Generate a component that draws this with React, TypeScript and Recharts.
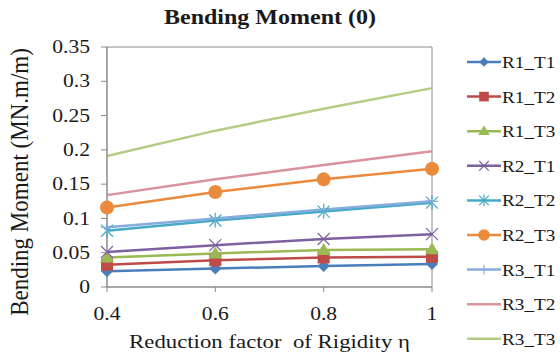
import { LineChart, Line, XAxis, YAxis, ReferenceArea } from 'recharts'

const eta = [0.4, 0.6, 0.8, 1]

const r1t1 = [0.023, 0.027, 0.0305, 0.0335]
const r1t2 = [0.0325, 0.039, 0.043, 0.044]
const r1t3 = [0.043, 0.049, 0.054, 0.055]
const r2t1 = [0.051, 0.061, 0.07, 0.077]
const r2t2 = [0.082, 0.097, 0.11, 0.123]
const r2t3 = [0.116, 0.1385, 0.157, 0.1725]
const r3t1 = [0.087, 0.1, 0.113, 0.125]
const r3t2 = [0.134, 0.157, 0.178, 0.198]
const r3t3 = [0.191, 0.228, 0.26, 0.29]

const yTicks = [0, 0.05, 0.1, 0.15, 0.2, 0.25, 0.3, 0.35]

type Shape = 'diamond' | 'square' | 'triangle' | 'x' | 'star' | 'circle' | 'plus' | 'none'

const series: { key: string; name: string; values: number[]; color: string; shape: Shape }[] = [
  { key: 'r1t1', name: 'R1_T1', values: r1t1, color: '#4a7ebb', shape: 'diamond' },
  { key: 'r1t2', name: 'R1_T2', values: r1t2, color: '#be4b48', shape: 'square' },
  { key: 'r1t3', name: 'R1_T3', values: r1t3, color: '#98b954', shape: 'triangle' },
  { key: 'r2t1', name: 'R2_T1', values: r2t1, color: '#7d60a0', shape: 'x' },
  { key: 'r2t2', name: 'R2_T2', values: r2t2, color: '#46aac5', shape: 'star' },
  { key: 'r2t3', name: 'R2_T3', values: r2t3, color: '#ec8a3c', shape: 'circle' },
  { key: 'r3t1', name: 'R3_T1', values: r3t1, color: '#85acdc', shape: 'plus' },
  { key: 'r3t2', name: 'R3_T2', values: r3t2, color: '#d9939a', shape: 'none' },
  { key: 'r3t3', name: 'R3_T3', values: r3t3, color: '#b3cd85', shape: 'none' },
]

const data = eta.map((x, i) => {
  const row: Record<string, number> = { eta: x }
  series.forEach(s => { row[s.key] = s.values[i] })
  return row
})

const FONT = '"Liberation Serif", "Times New Roman", serif'
const STRETCH = 1.2 // the source image is widened a bit, so is its text
const INK = '#1a1a1a'

function Marker({ cx, cy, shape, color, size = 1 }: { cx: number; cy: number; shape: Shape; color: string; size?: number }) {
  if (cx == null || cy == null) return null
  const a = 6 * size
  switch (shape) {
    case 'diamond':
      return <path d={`M${cx},${cy - a}L${cx + a},${cy}L${cx},${cy + a}L${cx - a},${cy}Z`} fill={color} />
    case 'square':
      return <rect x={cx - a} y={cy - a} width={2 * a} height={2 * a} fill={color} />
    case 'triangle':
      return <path d={`M${cx},${cy - a - 1}L${cx + a + 1},${cy + a - 1}L${cx - a - 1},${cy + a - 1}Z`} fill={color} />
    case 'circle':
      return <circle cx={cx} cy={cy} r={a + 1} fill={color} />
    case 'x':
      return <path d={`M${cx - a},${cy - a}L${cx + a},${cy + a}M${cx - a},${cy + a}L${cx + a},${cy - a}`} stroke={color} strokeWidth={1.2} fill="none" />
    case 'star':
      return (
        <path
          d={`M${cx - a},${cy - a}L${cx + a},${cy + a}M${cx - a},${cy + a}L${cx + a},${cy - a}M${cx},${cy - a - 1}L${cx},${cy + a + 1}`}
          stroke={color}
          strokeWidth={1.2}
          fill="none"
        />
      )
    case 'plus':
      return <path d={`M${cx - a},${cy}L${cx + a},${cy}M${cx},${cy - a}L${cx},${cy + a}`} stroke={color} strokeWidth={1.2} fill="none" />
    default:
      return null
  }
}

function YTick({ x, y, payload }: any) {
  return (
    <text transform={`translate(${x},${y}) scale(${STRETCH},1)`} dy="0.34em" textAnchor="end" fontSize={18} fontFamily={FONT} fill={INK}>
      {String(payload.value)}
    </text>
  )
}

function XTick({ x, y, payload }: any) {
  return (
    <text transform={`translate(${x},${y + 28}) scale(${STRETCH},1)`} textAnchor="middle" fontSize={18} fontFamily={FONT} fill={INK}>
      {String(payload.value)}
    </text>
  )
}

function XLabel({ viewBox }: any) {
  const cx = viewBox.x + viewBox.width / 2
  return (
    <text
      transform={`translate(${cx},${viewBox.y + 61}) scale(${STRETCH},1)`}
      textAnchor="middle"
      fontSize={19}
      fontFamily={FONT}
      fill={INK}
      style={{ whiteSpace: 'pre' }}
    >
      {'Reduction factor  of Rigidity η'}
    </text>
  )
}

function YLabel() {
  return (
    <text transform="translate(28,182) rotate(-90) scale(1,1.05)" textAnchor="middle" fontSize={23} fontFamily={FONT} fill={INK}>
      Bending Moment (MN.m/m)
    </text>
  )
}

export default function App() {
  return (
    <div style={{ position: 'fixed', left: 0, top: 0, width: 560, height: 358, background: '#fff', fontFamily: FONT, overflow: 'hidden' }}>
      <div
        style={{
          position: 'absolute',
          left: 70,
          width: 400,
          top: 6,
          textAlign: 'center',
          fontWeight: 'bold',
          fontSize: 20,
          color: INK,
          transform: `scaleX(${STRETCH})`,
        }}
      >
        Bending Moment (0)
      </div>
      <LineChart width={560} height={358} data={data} margin={{ top: 47, right: 128, bottom: 6, left: 5 }}>
        <XAxis
          dataKey="eta"
          type="number"
          domain={[0.4, 1]}
          ticks={eta}
          tickSize={5}
          tickMargin={0}
          axisLine={{ stroke: '#8a8a8a' }}
          tickLine={{ stroke: '#8a8a8a' }}
          tick={<XTick />}
          height={65}
          label={{ content: (p: any) => <XLabel viewBox={p.viewBox} /> }}
        />
        <YAxis
          type="number"
          domain={[0, 0.35]}
          ticks={yTicks}
          width={102}
          tickSize={6}
          tickMargin={11}
          axisLine={{ stroke: '#8a8a8a' }}
          tickLine={{ stroke: '#8a8a8a' }}
          tick={<YTick />}
          label={{ content: () => <YLabel /> }}
        />
        <ReferenceArea x1={0.4} x2={1} y1={0} y2={0.35} fill="none" stroke="#8a8a8a" strokeWidth={1} />
        {series.map(s => (
          <Line
            key={s.key}
            dataKey={s.key}
            name={s.name}
            type="linear"
            stroke={s.color}
            strokeWidth={2.5}
            isAnimationActive={false}
            dot={(p: any) => <Marker key={`${s.key}-${p.index}`} cx={p.cx} cy={p.cy} shape={s.shape} color={s.color} />}
            activeDot={false}
          />
        ))}
      </LineChart>
      <svg style={{ position: 'absolute', left: 0, top: 0 }} width={560} height={358}>
        {series.map((s, i) => {
          const cy = 62 + i * 34.6
          return (
            <g key={s.key}>
              <line x1={467} y1={cy} x2={501} y2={cy} stroke={s.color} strokeWidth={2.5} />
              <Marker cx={484} cy={cy} shape={s.shape} color={s.color} size={0.8} />
              <text transform={`translate(502,${cy + 6}) scale(${STRETCH},1)`} fontSize={16} fontFamily={FONT} fill={INK}>
                {s.name}
              </text>
            </g>
          )
        })}
      </svg>
    </div>
  )
}
